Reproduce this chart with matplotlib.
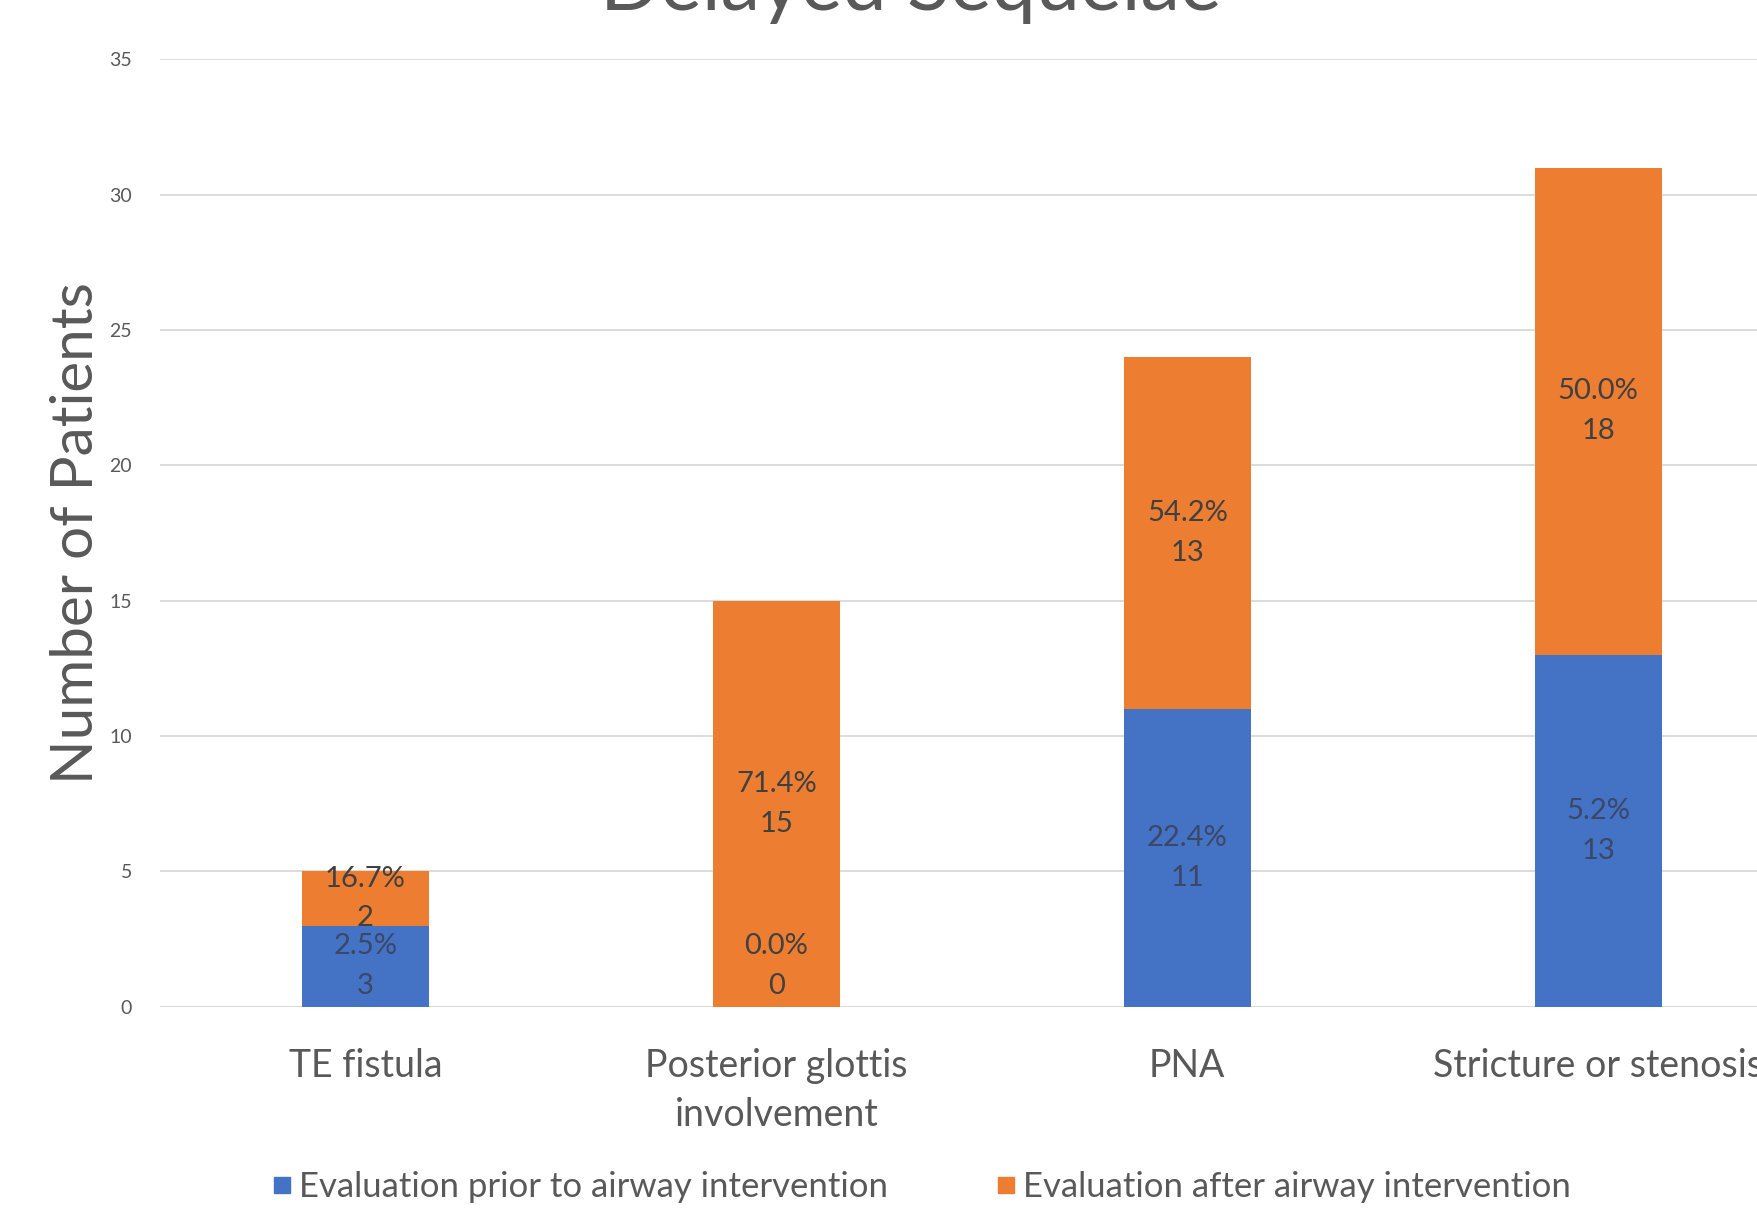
import matplotlib.pyplot as plt
from matplotlib.lines import Line2D

plt.rcParams['font.family'] = ['Lato', 'DejaVu Sans']

# 遅発性後遺症の患者数
categories = ["TE fistula", "Posterior glottis\ninvolvement", "PNA", "Stricture or stenosis"]
before = [3, 0, 11, 13]
after = [2, 15, 13, 18]
before_pct = ["2.5%", "0.0%", "22.4%", "5.2%"]
after_pct = ["16.7%", "71.4%", "54.2%", "50.0%"]
series_names = ["Evaluation prior to airway intervention", "Evaluation after airway intervention"]

BLUE = "#4472C4"
ORANGE = "#ED7D31"
GRID = "#D9D9D9"
TEXT = "#595959"

fig = plt.figure(figsize=(17.58, 12.10), dpi=100)
# 右端の軸は図の外にはみ出す
ax = fig.add_axes([0.091, 0.168, 0.935, 0.783])

x = list(range(len(categories)))
width = 0.31
ax.bar(x, before, width, color=BLUE, zorder=2)
ax.bar(x, after, width, bottom=before, color=ORANGE, zorder=2)

# データラベル（割合と人数）
for i in x:
    yb = before[i] / 2 if before[i] > 0 else 1.5
    ax.text(i, yb, f"{before_pct[i]}\n{before[i]}", ha="center", va="center",
            fontsize=21, color="#3b4766" if before[i] > 0 else "#404040",
            linespacing=1.65, zorder=3)
    ya = before[i] + after[i] / 2
    ax.text(i, ya, f"{after_pct[i]}\n{after[i]}", ha="center", va="center",
            fontsize=21, color="#404040", linespacing=1.65, zorder=3)

ax.set_xlim(-0.5, 3.5)
ax.set_ylim(0, 35)
ax.set_yticks(range(0, 36, 5))
ax.yaxis.grid(True, color=GRID, linewidth=1.3, zorder=0)
ax.tick_params(axis="y", length=0, labelsize=14, labelcolor=TEXT, pad=20)
ax.tick_params(axis="x", length=0, labelsize=27, labelcolor=TEXT, pad=30)
ax.set_xticks(x)
ax.set_xticklabels(categories, linespacing=1.45)
for s in ax.spines.values():
    s.set_visible(False)
ax.axhline(0, color=GRID, linewidth=1.3, zorder=1)

ax.set_ylabel("Number of Patients", fontsize=42, color=TEXT, labelpad=5)

fig.text(0.518, 0.992, "Delayed Sequelae", ha="center", va="baseline",
         fontsize=57, color=TEXT)

handles = [Line2D([], [], marker="s", linestyle="none", markersize=12, color=c)
           for c in (BLUE, ORANGE)]
fig.legend(handles, series_names, loc="center", bbox_to_anchor=(0.523, 0.019),
           ncol=2, frameon=False, fontsize=25, labelcolor=TEXT,
           handletextpad=0.1, columnspacing=3.0, handlelength=0.8)

fig.savefig("out.png", dpi=100)
